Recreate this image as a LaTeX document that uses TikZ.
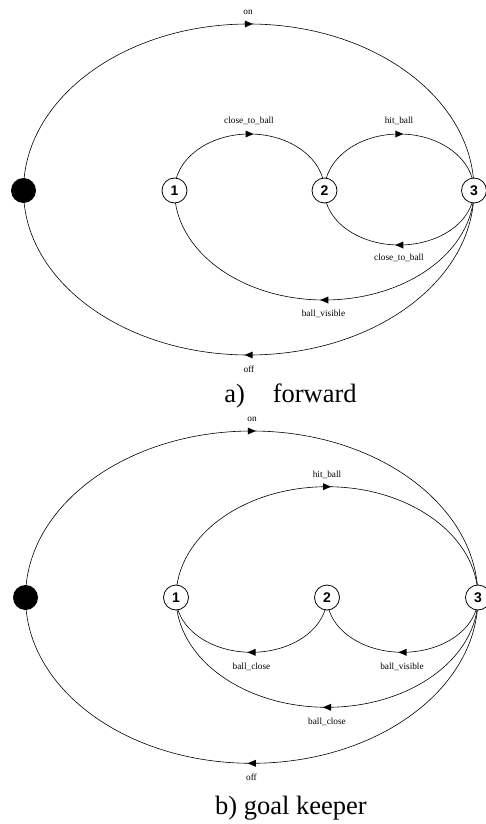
\documentclass[tikz,border=0pt]{standalone}
\usepackage{fontspec}
\setmainfont{Liberation Serif}
\newfontfamily\numfont{Liberation Sans}
\usetikzlibrary{decorations.markings,backgrounds}
\begin{document}
\begin{tikzpicture}[x=1pt,y=-1pt,
  state/.style={circle,draw,fill=white,minimum size=25pt,inner sep=0pt,line width=0.8pt,font=\numfont\bfseries\fontsize{14}{14}\selectfont},
  startdot/.style={circle,fill=black,minimum size=25pt,inner sep=0pt},
  trans/.style={line width=0.6pt,postaction={decorate,decoration={markings,mark=at position 0.5 with {\fill (4pt,0pt) -- (-4pt,3.5pt) -- (-4pt,-3.5pt) -- cycle;}}}},
  lbl/.style={anchor=base,inner sep=0pt,font=\fontsize{9.3}{10}\selectfont},
  captext/.style={anchor=base,inner sep=0pt,font=\fontsize{26.5}{28}\selectfont}]
\useasboundingbox (0,0) rectangle (486,824);
% ---------- a) forward ----------
\node[startdot] (a0) at (23.5,190.5) {};
\node[state] (a1) at (174.5,190.5) {1};
\node[state] (a2) at (324.5,190.5) {2};
\node[state] (a3) at (474,190.5) {3};
\begin{scope}[on background layer]
\draw[trans] (a0.center) arc[start angle=180,end angle=0,x radius=225.25pt,y radius=166.5pt];
\draw[trans] (a1.center) arc[start angle=180,end angle=0,x radius=75pt,y radius=56.5pt];
\draw[trans] (a2.center) arc[start angle=180,end angle=0,x radius=74.75pt,y radius=56.5pt];
\draw[trans] (a3.center) arc[start angle=0,end angle=-180,x radius=74.75pt,y radius=54.5pt];
\draw[trans] (a3.center) arc[start angle=0,end angle=-180,x radius=149.75pt,y radius=109.5pt];
\draw[trans] (a3.center) arc[start angle=0,end angle=-180,x radius=225.25pt,y radius=164.5pt];
\end{scope}
\node[lbl] (la1) at (248,15) {on};
\node[lbl] (la2) at (249,124) {close\_to\_ball};
\node[lbl] (la3) at (399,124) {hit\_ball};
\node[lbl] (la4) at (399,260.5) {close\_to\_ball};
\node[lbl] (la5) at (323.5,316) {ball\_visible};
\node[lbl] (la6) at (249,372) {off};
\node[captext] (capa) at (290.5,402.3) {a)\hspace{28pt}forward};
% ---------- b) goal keeper ----------
\node[startdot] (b0) at (25.5,597.5) {};
\node[state] (b1) at (176,597.5) {1};
\node[state] (b2) at (327,597.5) {2};
\node[state] (b3) at (478,597.5) {3};
\begin{scope}[on background layer]
\draw[trans] (b0.center) arc[start angle=180,end angle=0,x radius=226.25pt,y radius=166.5pt];
\draw[trans] (b1.center) arc[start angle=180,end angle=0,x radius=151pt,y radius=110.8pt];
\draw[trans] (b2.center) arc[start angle=0,end angle=-180,x radius=75.5pt,y radius=54.8pt];
\draw[trans] (b3.center) arc[start angle=0,end angle=-180,x radius=75.5pt,y radius=54.8pt];
\draw[trans] (b3.center) arc[start angle=0,end angle=-180,x radius=151pt,y radius=109.8pt];
\draw[trans] (b3.center) arc[start angle=0,end angle=-180,x radius=226.25pt,y radius=165.8pt];
\end{scope}
\node[lbl] (lb1) at (252,421.5) {on};
\node[lbl] (lb2) at (327,477) {hit\_ball};
\node[lbl] (lb3) at (251.5,669) {ball\_close};
\node[lbl] (lb4) at (402,669) {ball\_visible};
\node[lbl] (lb5) at (327,724.3) {ball\_close};
\node[lbl] (lb6) at (251.5,780) {off};
\node[captext] (capb) at (291,814.5) {b) goal keeper};
\end{tikzpicture}
\end{document}
